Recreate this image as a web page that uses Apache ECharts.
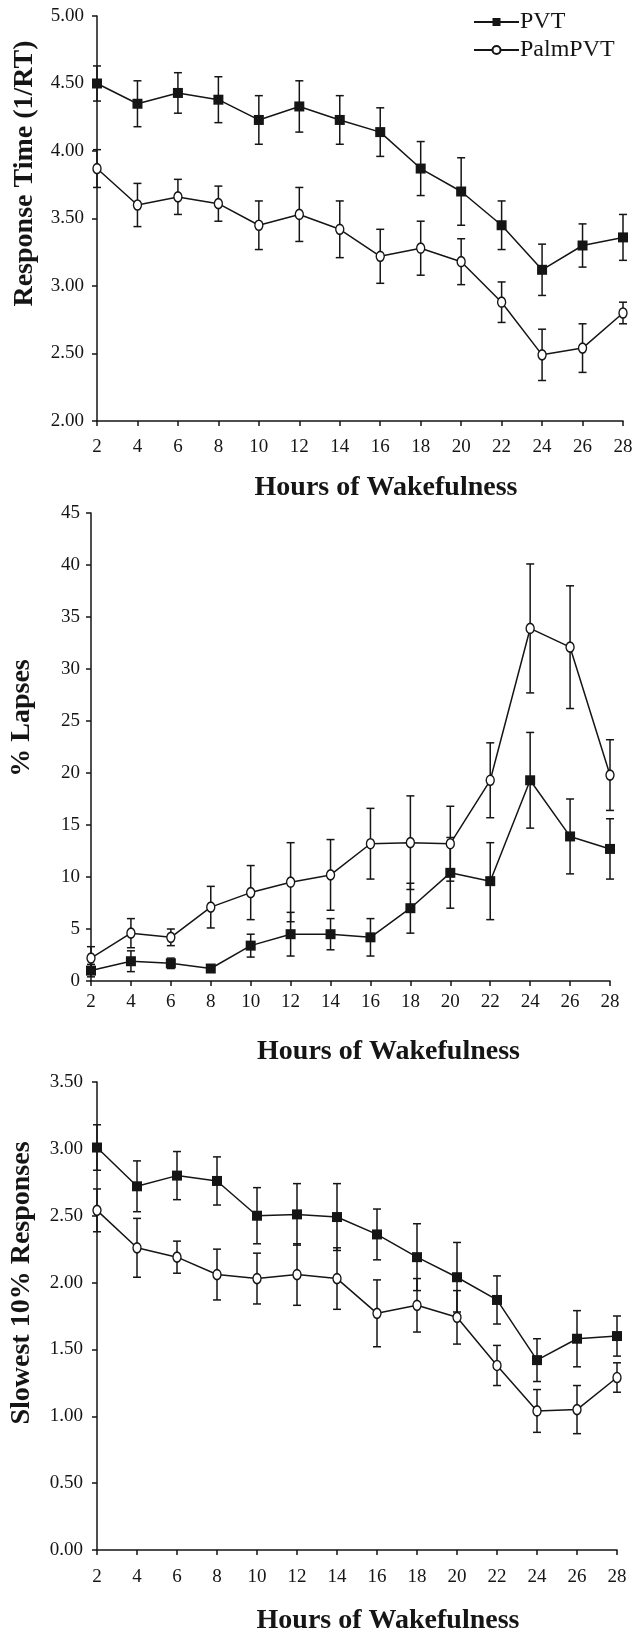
<!DOCTYPE html>
<html>
<head>
<meta charset="utf-8">
<script src="https://cdn.jsdelivr.net/npm/echarts@6/dist/echarts.min.js"></script>
<style>
  html, body { margin: 0; padding: 0; background: #fff; }
  #chart { width: 638px; height: 1638px; }
</style>
</head>
<body>
<div id="chart"></div>
<script>
const hours = [2, 4, 6, 8, 10, 12, 14, 16, 18, 20, 22, 24, 26, 28]
const xTicks = { min: 2, max: 28, interval: 2 }

// panel 1: response time (1/RT)
const rtPvt = [4.50, 4.35, 4.43, 4.38, 4.23, 4.33, 4.23, 4.14, 3.87, 3.70, 3.45, 3.12, 3.30, 3.36]
const rtPvtErr = [0.13, 0.17, 0.15, 0.17, 0.18, 0.19, 0.18, 0.18, 0.20, 0.25, 0.18, 0.19, 0.16, 0.17]
const rtPalm = [3.87, 3.60, 3.66, 3.61, 3.45, 3.53, 3.42, 3.22, 3.28, 3.18, 2.88, 2.49, 2.54, 2.80]
const rtPalmErr = [0.14, 0.16, 0.13, 0.13, 0.18, 0.20, 0.21, 0.20, 0.20, 0.17, 0.15, 0.19, 0.18, 0.08]

// panel 2: % lapses
const lapPvt = [1.0, 1.9, 1.7, 1.2, 3.4, 4.5, 4.5, 4.2, 7.0, 10.4, 9.6, 19.3, 13.9, 12.7]
const lapPvtErr = [0.6, 1.0, 0.5, 0.3, 1.1, 2.1, 1.5, 1.8, 2.4, 3.4, 3.7, 4.6, 3.6, 2.9]
const lapPalm = [2.2, 4.6, 4.2, 7.1, 8.5, 9.5, 10.2, 13.2, 13.3, 13.2, 19.3, 33.9, 32.1, 19.8]
const lapPalmErr = [1.1, 1.4, 0.8, 2.0, 2.6, 3.8, 3.4, 3.4, 4.5, 3.6, 3.6, 6.2, 5.9, 3.4]

// panel 3: slowest 10% responses
const slowPvt = [3.01, 2.72, 2.80, 2.76, 2.50, 2.51, 2.49, 2.36, 2.19, 2.04, 1.87, 1.42, 1.58, 1.60]
const slowPvtErr = [0.17, 0.19, 0.18, 0.18, 0.21, 0.23, 0.25, 0.19, 0.25, 0.26, 0.18, 0.16, 0.21, 0.15]
const slowPalm = [2.54, 2.26, 2.19, 2.06, 2.03, 2.06, 2.03, 1.77, 1.83, 1.74, 1.38, 1.04, 1.05, 1.29]
const slowPalmErr = [0.16, 0.22, 0.12, 0.19, 0.19, 0.23, 0.23, 0.25, 0.20, 0.20, 0.15, 0.16, 0.18, 0.11]

const yTitles = ['Response Time (1/RT)', '% Lapses', 'Slowest 10% Responses']
const xTitle = 'Hours of Wakefulness'

const FONT = '"Liberation Serif", "Times New Roman", serif'
const INK = '#151515'

const chart = echarts.init(document.getElementById('chart'), null, { renderer: 'canvas' })

const grids = [
  { left: 97, right: 15, top: 16, height: 405 },
  { left: 90, right: 28, top: 513, height: 468 },
  { left: 97, right: 21, top: 1082, height: 468 },
]

// x titles sit a bit right of each grid's centre, so shift them with left padding
const xAxes = [
  { labelMargin: 17, nameGap: 53, shift: 52 },
  { labelMargin: 12, nameGap: 57, shift: 76 },
  { labelMargin: 18, nameGap: 57, shift: 62 },
].map((c, i) => ({
  type: 'value',
  gridIndex: i,
  ...xTicks,
  name: xTitle,
  nameLocation: 'middle',
  nameGap: c.nameGap,
  nameTextStyle: {
    fontFamily: FONT, fontWeight: 'bold', fontSize: 28, color: INK,
    padding: [0, 0, 0, c.shift],
  },
  axisLine: { lineStyle: { color: INK, width: 1.5 } },
  axisTick: { show: true, length: 5, inside: false, lineStyle: { color: INK, width: 1.5 } },
  axisLabel: { margin: c.labelMargin, fontFamily: FONT, fontSize: 19, color: INK },
  splitLine: { show: false },
}))

const yAxes = [
  { min: 2, max: 5, interval: 0.5, digits: 2, nameGap: 58, shift: 90, labelMargin: 13 },
  { min: 0, max: 45, interval: 5, digits: 0, nameGap: 55, shift: 58, labelMargin: 11 },
  { min: 0, max: 3.5, interval: 0.5, digits: 2, nameGap: 61, shift: 66, labelMargin: 14 },
].map((c, i) => ({
  type: 'value',
  gridIndex: i,
  min: c.min, max: c.max, interval: c.interval,
  name: yTitles[i],
  nameLocation: 'middle',
  nameGap: c.nameGap,
  nameTextStyle: {
    fontFamily: FONT, fontWeight: 'bold', fontSize: 28, color: INK,
    padding: [0, 0, 0, c.shift],
  },
  axisLine: { show: true, lineStyle: { color: INK, width: 1.5 } },
  axisTick: { show: true, length: 5, inside: false, lineStyle: { color: INK, width: 1.5 } },
  axisLabel: {
    margin: c.labelMargin, fontFamily: FONT, fontSize: 19, color: INK,
    formatter: (v) => Number(v).toFixed(c.digits),
  },
  splitLine: { show: false },
}))

function errorBars(vals, errs, idx) {
  return {
    type: 'custom',
    xAxisIndex: idx,
    yAxisIndex: idx,
    silent: true,
    z: 1,
    data: hours.map((h, i) => [h, vals[i] - errs[i], vals[i] + errs[i]]),
    renderItem: (params, api) => {
      const lo = api.coord([api.value(0), api.value(1)])
      const hi = api.coord([api.value(0), api.value(2)])
      const cap = 4
      const style = { stroke: INK, lineWidth: 1.5 }
      return {
        type: 'group',
        children: [
          { type: 'line', shape: { x1: lo[0], y1: lo[1], x2: hi[0], y2: hi[1] }, style },
          { type: 'line', shape: { x1: hi[0] - cap, y1: hi[1], x2: hi[0] + cap, y2: hi[1] }, style },
          { type: 'line', shape: { x1: lo[0] - cap, y1: lo[1], x2: lo[0] + cap, y2: lo[1] }, style },
        ],
      }
    },
  }
}

function pvtLine(vals, idx) {
  return {
    name: 'PVT',
    type: 'line',
    xAxisIndex: idx,
    yAxisIndex: idx,
    z: 3,
    data: hours.map((h, i) => [h, vals[i]]),
    symbol: 'rect',
    symbolSize: 10,
    lineStyle: { color: INK, width: 1.5 },
    itemStyle: { color: INK },
  }
}

function palmLine(vals, idx) {
  return {
    name: 'PalmPVT',
    type: 'line',
    xAxisIndex: idx,
    yAxisIndex: idx,
    z: 3,
    data: hours.map((h, i) => [h, vals[i]]),
    symbol: 'circle',
    symbolSize: [8, 10],
    lineStyle: { color: INK, width: 1.5 },
    itemStyle: { color: '#fff', borderColor: INK, borderWidth: 1.5 },
  }
}

const panels = [
  [rtPvt, rtPvtErr, rtPalm, rtPalmErr],
  [lapPvt, lapPvtErr, lapPalm, lapPalmErr],
  [slowPvt, slowPvtErr, slowPalm, slowPalmErr],
]

const series = []
panels.forEach(([pv, pe, pa, ae], i) => {
  series.push(errorBars(pv, pe, i))
  series.push(errorBars(pa, ae, i))
  series.push(pvtLine(pv, i))
  series.push(palmLine(pa, i))
})

chart.setOption({
  animation: false,
  backgroundColor: '#fff',
  legend: {
    data: ['PVT', 'PalmPVT'],
    orient: 'vertical',
    left: 468,
    top: 5,
    itemWidth: 45,
    itemHeight: 10,
    itemGap: 4,
    selectedMode: false,
    textStyle: { fontFamily: FONT, fontSize: 24, color: INK, padding: [0, 0, 0, -4] },
  },
  grid: grids,
  xAxis: xAxes,
  yAxis: yAxes,
  series,
})
</script>
</body>
</html>
